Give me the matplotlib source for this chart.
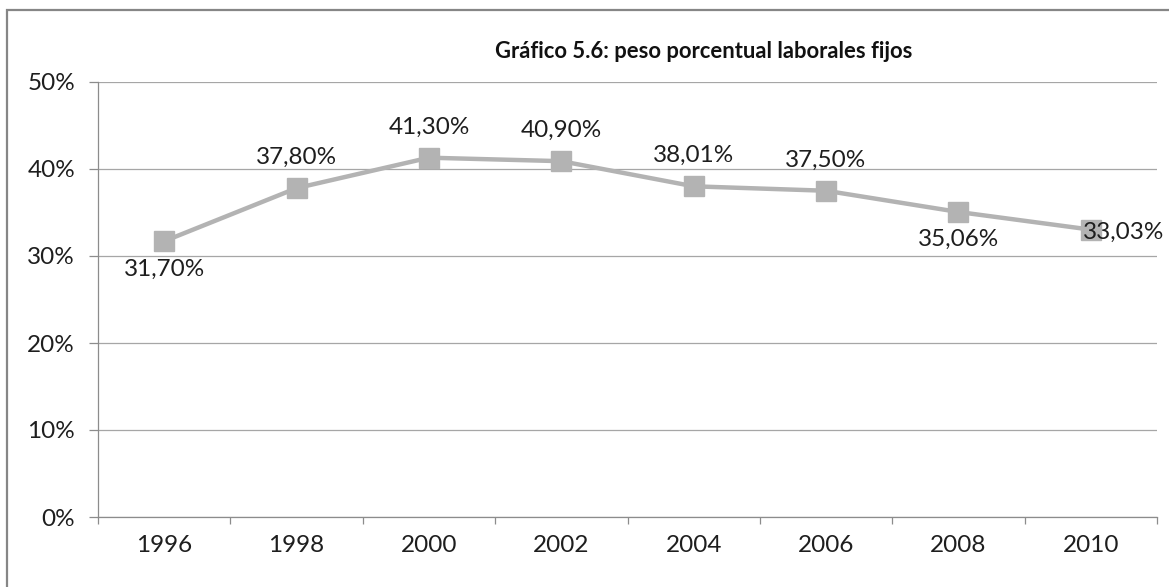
import matplotlib.pyplot as plt
from matplotlib.patches import Rectangle
from matplotlib.ticker import FixedLocator

years = ['1996', '1998', '2000', '2002', '2004', '2006', '2008', '2010']
peso = [31.70, 37.80, 41.30, 40.90, 38.01, 37.50, 35.06, 33.03]
labels = ['31,70%', '37,80%', '41,30%', '40,90%', '38,01%', '37,50%', '35,06%', '33,03%']
# where each value label sits relative to its marker
label_pos = ['below', 'above', 'above', 'above', 'above', 'above', 'below', 'right']

plt.rcParams['font.family'] = ['Lato', 'DejaVu Sans']

fig = plt.figure(figsize=(11.69, 5.87), dpi=100)
ax = fig.add_axes([98 / 1169, 1 - 517 / 587, 1059 / 1169, 435 / 587])

x = list(range(len(years)))
ax.plot(x, peso, color='#B3B3B3', lw=3.2, marker='s', ms=14, mfc='#B3B3B3', mec='#B3B3B3', zorder=3)

for xi, v, t, p in zip(x, peso, labels, label_pos):
    if p == 'above':
        off, ha, va = (0, 22), 'center', 'center'
    elif p == 'below':
        off, ha, va = (0, -20), 'center', 'center'
    else:
        off, ha, va = (-6, -2), 'left', 'center'
    ax.annotate(t, (xi, v), xytext=off, textcoords='offset points', ha=ha, va=va,
                fontsize=17.5, color='#1E1E1E', zorder=4)

ax.set_xlim(-0.5, len(years) - 0.5)
ax.set_ylim(0, 50)
ax.set_yticks([0, 10, 20, 30, 40, 50])
ax.set_yticklabels(['0%', '10%', '20%', '30%', '40%', '50%'])
ax.set_xticks(x)
ax.set_xticklabels(years)
ax.xaxis.set_minor_locator(FixedLocator([i - 0.5 for i in range(len(years) + 1)]))

ax.grid(axis='y', color='#A6A6A6', lw=0.9)
ax.set_axisbelow(True)
for s in ['top', 'right']:
    ax.spines[s].set_visible(False)
for s in ['left', 'bottom']:
    ax.spines[s].set_color('#8C8C8C')
    ax.spines[s].set_linewidth(0.9)

ax.tick_params(axis='y', length=6.5, width=0.9, color='#8C8C8C', pad=10, labelsize=17.5, labelcolor='#1E1E1E')
ax.tick_params(axis='x', which='major', length=0, pad=13, labelsize=17.5, labelcolor='#1E1E1E')
ax.tick_params(axis='x', which='minor', length=5, width=0.9, color='#8C8C8C')

fig.text(704 / 1169, 1 - 52 / 587, 'Gráfico 5.6: peso porcentual laborales fijos',
         ha='center', va='center', fontsize=15.8, fontweight='bold', color='#111111')

# outer chart frame
fig.patches.append(Rectangle((7 / 1169, -0.02), 1.05, 1 - 10 / 587 + 0.02,
                             transform=fig.transFigure, fill=False,
                             edgecolor='#868686', lw=1.6))

fig.savefig('out.png', dpi=100)
